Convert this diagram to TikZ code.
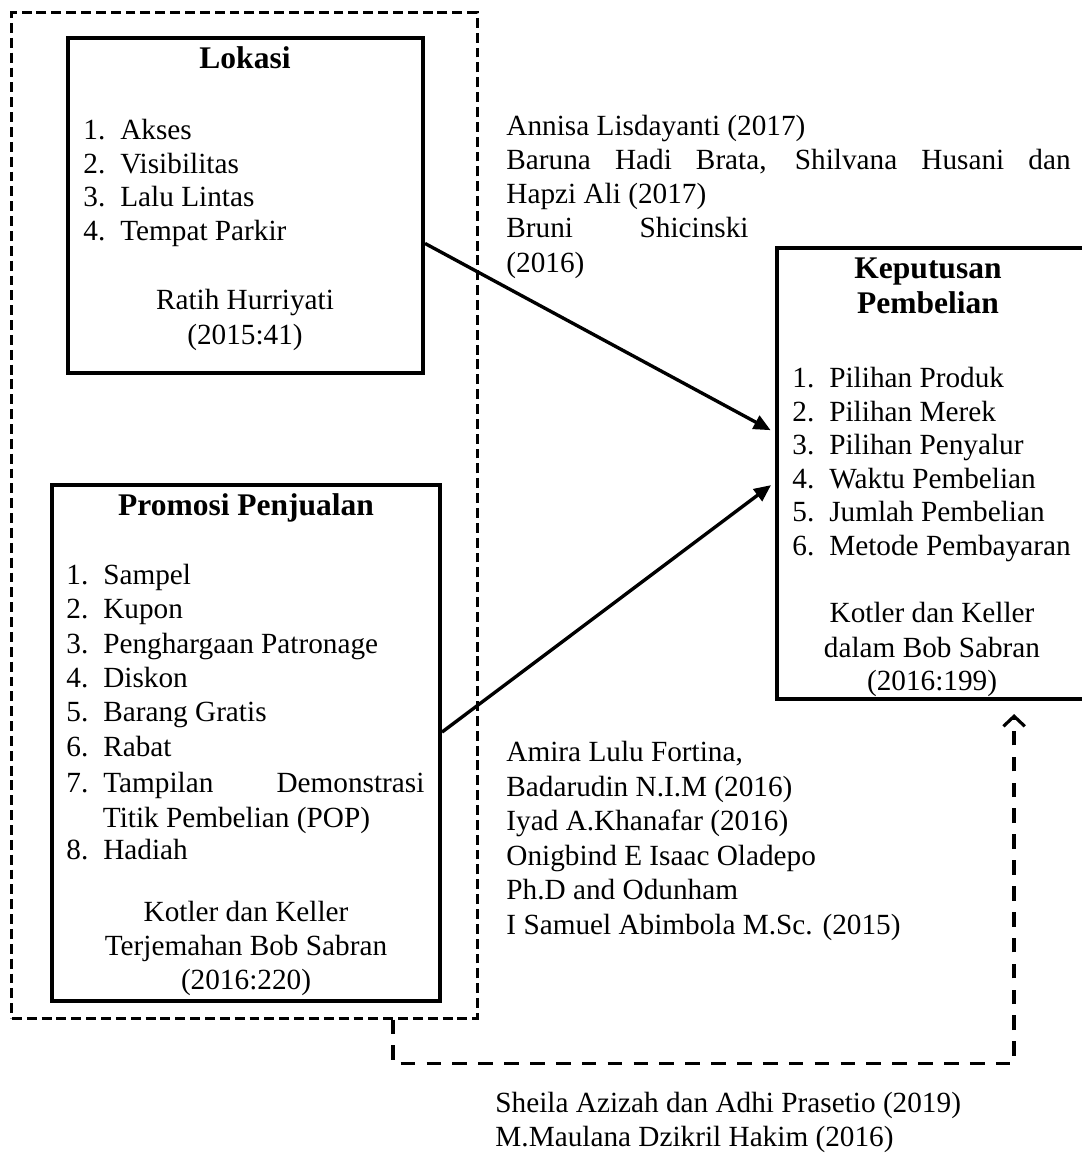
\documentclass[tikz,border=0pt]{standalone}
\usepackage{fontspec}
\setmainfont{Liberation Serif}
\usetikzlibrary{arrows.meta,calc}
\tikzset{
    RB/.style ={rectangle, draw=black, line width=1.8pt, inner sep=0pt},
    DB/.style ={rectangle, draw=black, line width=1.3pt, dash pattern=on 4.4pt off 2.2pt, inner sep=0pt},
    TX/.style ={anchor=base west, inner sep=0pt},
    TC/.style ={anchor=base, inner sep=0pt},
    TT/.style ={anchor=base, inner sep=0pt, font=\fontsize{14}{17}\selectfont\bfseries},
    AR/.style ={line width=1.5pt, -{Triangle[length=7.5pt,width=6.5pt]}, shorten >=2.2pt},
    DA/.style ={line width=1.5pt, dash pattern=on 6.5pt off 5pt, -{Straight Barb[length=4.5pt,width=9.5pt,line width=1.4pt]}, shorten >=5.8pt}
}
\newcommand{\nr}[1]{\makebox[16.4pt][l]{#1}}

\begin{document}
\begin{tikzpicture}[x=0.4444pt,y=-0.4444pt,font=\fontsize{13}{16}\selectfont]
        \useasboundingbox (0,0) rectangle (1082,1166);
        % boxes
        \node[DB, minimum width=206.7pt, minimum height=446.7pt] (outer) at (244.5,515.5) {};
        \node[RB, minimum width=157.8pt, minimum height=148.9pt] (lok) at (245.5,205.5) {};
        \node[RB, minimum width=172.4pt, minimum height=229.3pt] (pro) at (246,743) {};
        \node[RB, minimum width=138.2pt, minimum height=200.4pt] (kep) at (932.5,473.5) {};
        % Lokasi
        \node[TT] (lokt) at (245,69) {Lokasi};
        \foreach \t [count=\i] in {Akses,Visibilitas,Lalu Lintas,Tempat Parkir}
            \node[TX] (lok\i) at (83,{139.5+33.7*(\i-1)}) {\nr{\i.}\t};
        \node[TC] (lokr1) at (245,309.5) {Ratih Hurriyati};
        \node[TC] (lokr2) at (245,344.5) {(2015:41)};
        % Promosi Penjualan
        \node[TT] (prot) at (246,515.5) {Promosi Penjualan};
        \foreach \t [count=\i] in {Sampel,Kupon,Penghargaan Patronage,Diskon,Barang Gratis,Rabat}
            \node[TX] (pro\i) at (66,{584.5+34.3*(\i-1)}) {\nr{\i.}\t};
        \node[TX] (pro7) at (66,792.5) {\nr{7.}\makebox[142.7pt][s]{Tampilan Demonstrasi}};
        \node[TX] (pro7b) at (102.5,827.5) {Titik Pembelian (POP)};
        \node[TX] (pro8) at (66,859.5) {\nr{8.}Hadiah};
        \node[TC] (pror1) at (246,921.5) {Kotler dan Keller};
        \node[TC] (pror2) at (246,955.5) {Terjemahan Bob Sabran};
        \node[TC] (pror3) at (246,989.5) {(2016:220)};
        % Keputusan Pembelian
        \node[TT] (kept1) at (928,278.5) {Keputusan};
        \node[TT] (kept2) at (928,313.5) {Pembelian};
        \foreach \t [count=\i] in {Pilihan Produk,Pilihan Merek,Pilihan Penyalur,Waktu Pembelian,Jumlah Pembelian,Metode Pembayaran}
            \node[TX] (kep\i) at (792,{387.5+33.6*(\i-1)}) {\nr{\i.}\t};
        \node[TC] (kepr1) at (932,622.5) {Kotler dan Keller};
        \node[TC] (kepr2) at (932,657.5) {dalam Bob Sabran};
        \node[TC] (kepr3) at (932,690.5) {(2016:199)};
        % rujukan
        \node[TX] (ref1) at (506,135.5) {Annisa Lisdayanti (2017)};
        \node[TX] (ref2) at (506,169.5) {\makebox[250.7pt][s]{Baruna Hadi Brata, Shilvana Husani dan}};
        \node[TX] (ref3) at (506,203.5) {Hapzi Ali (2017)};
        \node[TX] (ref4) at (506,237.5) {\makebox[107.6pt][s]{Bruni Shicinski}};
        \node[TX] (ref5) at (506,272.5) {(2016)};
        \node[TX] (ref6) at (506,761.5) {Amira Lulu Fortina,};
        \node[TX] (ref7) at (506,796) {Badarudin N.I.M (2016)};
        \node[TX] (ref8) at (506,830.5) {Iyad A.Khanafar (2016)};
        \node[TX] (ref9) at (506,865) {Onigbind E Isaac Oladepo};
        \node[TX] (ref10) at (506,899.5) {Ph.D and Odunham};
        \node[TX] (ref11) at (506,934) {I Samuel Abimbola M.Sc. (2015)};
        \node[TX] (ref12) at (495,1112) {Sheila Azizah dan Adhi Prasetio (2019)};
        \node[TX] (ref13) at (495,1146) {M.Maulana Dzikril Hakim (2016)};
        % panah
        \draw[AR] ($(lok.north east)!0.612!(lok.south east)$) -- ($(kep.north west)!0.41!(kep.south west)$);
        \draw[AR] ($(pro.north east)!0.479!(pro.south east)$) -- ($(kep.north west)!0.519!(kep.south west)$);
        \coordinate (d1) at ($(outer.south west)!0.817!(outer.south east)$);
        \coordinate (d2) at ($(kep.south west)!0.759!(kep.south east)$);
        \draw[DA] (d1) -- ++(0,44) -| (d2);
    \end{tikzpicture}
\end{document}
